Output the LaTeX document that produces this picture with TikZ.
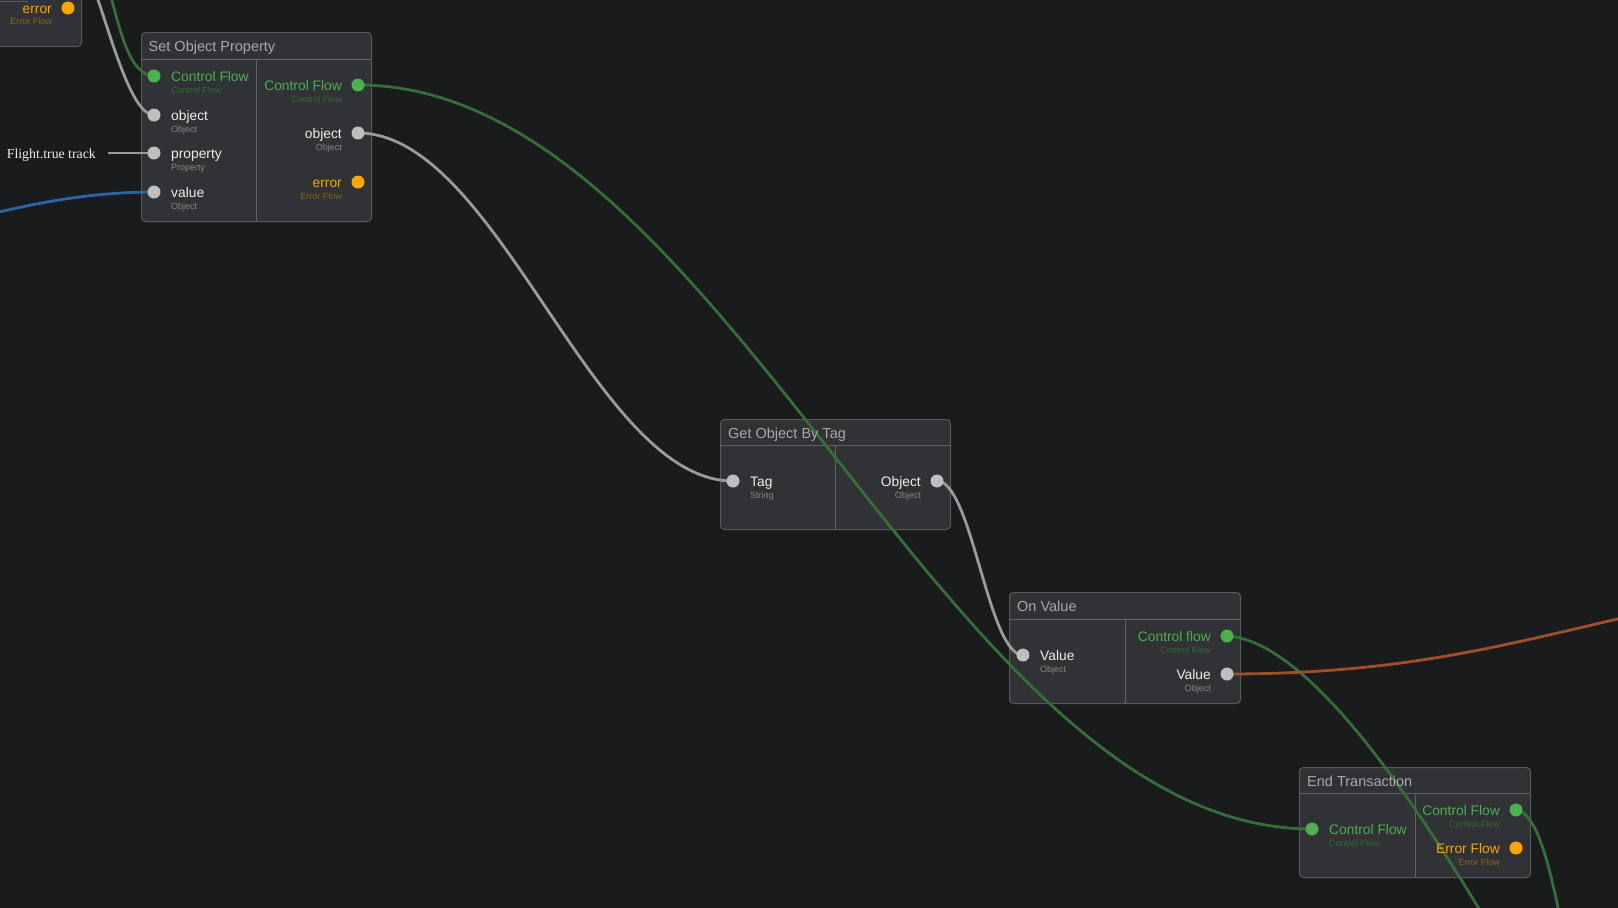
\documentclass[tikz,border=0pt]{standalone}
\usepackage{fontspec}
\setmainfont{Liberation Sans}
\newfontfamily\flightfont{Liberation Serif}
\definecolor{bgcol}{RGB}{26,27,29}
\definecolor{nfill}{RGB}{49,50,53}
\definecolor{nborder}{RGB}{88,89,93}
\definecolor{ndiv}{RGB}{98,98,102}
\definecolor{pgreen}{RGB}{76,175,80}
\definecolor{tgreen}{RGB}{76,175,80}
\definecolor{sgreen}{RGB}{52,105,56}
\definecolor{wgreen}{RGB}{52,110,58}
\definecolor{pgray}{RGB}{190,190,190}
\definecolor{wgray}{RGB}{155,155,155}
\definecolor{porange}{RGB}{255,165,0}
\definecolor{sorange}{RGB}{140,100,30}
\definecolor{twhite}{RGB}{238,238,238}
\definecolor{sgray}{RGB}{135,135,135}
\definecolor{ttlcol}{RGB}{170,170,170}
\definecolor{wblue}{RGB}{44,100,165}
\definecolor{wsienna}{RGB}{160,80,40}
\pgfdeclarelayer{bg}
\pgfdeclarelayer{wires}
\pgfsetlayers{bg,wires,main}
\tikzset{
 nodebox/.style={draw=nborder, fill=nfill, rounded corners=4pt, line width=1pt, rectangle, inner sep=0pt, anchor=north west},
 divline/.style={draw=ndiv, line width=1pt},
 port/.style={circle, inner sep=0pt, minimum size=13pt},
 gport/.style={port, fill=pgreen},
 wport/.style={port, fill=pgray},
 oport/.style={port, fill=porange},
 lbl/.style={inner sep=0pt, font=\fontsize{13.8}{16}\selectfont},
 lblL/.style={lbl, anchor=base west},
 lblR/.style={lbl, anchor=base east},
 sub/.style={inner sep=0pt, font=\fontsize{9}{10}\selectfont},
 subL/.style={sub, anchor=base west},
 subR/.style={sub, anchor=base east},
 ttl/.style={inner sep=0pt, font=\fontsize{14.5}{17}\selectfont, text=ttlcol, anchor=base west},
 wire/.style={line width=2.8pt},
}
\begin{document}
\begin{tikzpicture}[x=1pt,y=-1pt]
\begin{pgfonlayer}{bg}
\fill[bgcol] (0,0) rectangle (1618,908);
\end{pgfonlayer}
\useasboundingbox (0,0) rectangle (1618,908);
\clip (0,0) rectangle (1618,908);
\begin{pgfonlayer}{bg}
% previous partial node
\node[nodebox, anchor=south east, minimum width=120pt, minimum height=80pt] (prev) at (82,47) {};
\draw[draw=nborder, line width=1pt] (0,1) -- (28,1);
% Set Object Property
\node[nodebox, minimum width=230pt, minimum height=189pt] (sop) at (141,32) {};
\draw[divline] (141,59) -- (371,59) (256,59) -- (256,221);
% Get Object By Tag
\node[nodebox, minimum width=230pt, minimum height=110pt] (gobt) at (720,419) {};
\draw[divline] (720,445) -- (950,445) (835,445) -- (835,529);
% On Value
\node[nodebox, minimum width=231pt, minimum height=111pt] (ov) at (1009,592) {};
\draw[divline] (1009,619) -- (1240,619) (1125,619) -- (1125,703);
% End Transaction
\node[nodebox, minimum width=231pt, minimum height=110pt] (et) at (1299,767) {};
\draw[divline] (1299,793) -- (1530,793) (1415,793) -- (1415,877);
\end{pgfonlayer}

% previous node content
\node[oport] (prev-o1) at (68,8) {};
\node[lblR, text=porange] (prev-o1l) at (52,13) {error};
\node[subR, text=sorange] (prev-o1s) at (52,24) {Error Flow};

% Set Object Property content
\node[ttl] (sop-t) at (148.5,51) {Set Object Property};
\node[gport] (sop-i1) at (154,76) {};
\node[lblL, text=tgreen] (sop-i1l) at (171,81) {Control Flow};
\node[subL, text=sgreen] (sop-i1s) at (171,93) {Control Flow};
\node[wport] (sop-i2) at (154,115) {};
\node[lblL, text=twhite] (sop-i2l) at (171,120) {object};
\node[subL, text=sgray] (sop-i2s) at (171,132) {Object};
\node[wport] (sop-i3) at (154,153) {};
\node[lblL, text=twhite] (sop-i3l) at (171,158) {property};
\node[subL, text=sgray] (sop-i3s) at (171,170) {Property};
\node[wport] (sop-i4) at (154,192) {};
\node[lblL, text=twhite] (sop-i4l) at (171,197) {value};
\node[subL, text=sgray] (sop-i4s) at (171,209) {Object};
\node[gport] (sop-o1) at (358,85) {};
\node[lblR, text=tgreen] (sop-o1l) at (342,90) {Control Flow};
\node[subR, text=sgreen] (sop-o1s) at (342,102) {Control Flow};
\node[wport] (sop-o2) at (358,133) {};
\node[lblR, text=twhite] (sop-o2l) at (342,138) {object};
\node[subR, text=sgray] (sop-o2s) at (342,150) {Object};
\node[oport] (sop-o3) at (358,182) {};
\node[lblR, text=porange] (sop-o3l) at (342,187) {error};
\node[subR, text=sorange] (sop-o3s) at (342,199) {Error Flow};

% Flight.true track constant
\node[anchor=base east, inner xsep=12pt, inner ysep=0pt, text=twhite, font=\flightfont\fontsize{13.8}{16}\selectfont] (flt) at (108,158) {Flight.true track};

% Get Object By Tag content
\node[ttl] (gobt-t) at (728,438) {Get Object By Tag};
\node[wport] (gobt-i1) at (733,481) {};
\node[lblL, text=twhite] (gobt-i1l) at (750,486) {Tag};
\node[subL, text=sgray] (gobt-i1s) at (750,498) {String};
\node[wport] (gobt-o1) at (937,481) {};
\node[lblR, text=twhite] (gobt-o1l) at (921,486) {Object};
\node[subR, text=sgray] (gobt-o1s) at (921,498) {Object};

% On Value content
\node[ttl] (ov-t) at (1017,611) {On Value};
\node[wport] (ov-i1) at (1023,655) {};
\node[lblL, text=twhite] (ov-i1l) at (1040,660) {Value};
\node[subL, text=sgray] (ov-i1s) at (1040,672) {Object};
\node[gport] (ov-o1) at (1227,636) {};
\node[lblR, text=tgreen] (ov-o1l) at (1211,641) {Control flow};
\node[subR, text=sgreen] (ov-o1s) at (1211,653) {Control Flow};
\node[wport] (ov-o2) at (1227,674) {};
\node[lblR, text=twhite] (ov-o2l) at (1211,679) {Value};
\node[subR, text=sgray] (ov-o2s) at (1211,691) {Object};

% End Transaction content
\node[ttl] (et-t) at (1307,786) {End Transaction};
\node[gport] (et-i1) at (1312,829) {};
\node[lblL, text=tgreen] (et-i1l) at (1329,834) {Control Flow};
\node[subL, text=sgreen] (et-i1s) at (1329,846) {Control Flow};
\node[gport] (et-o1) at (1516,810) {};
\node[lblR, text=tgreen] (et-o1l) at (1500,815) {Control Flow};
\node[subR, text=sgreen] (et-o1s) at (1500,827) {Control Flow};
\node[oport] (et-o2) at (1516,848) {};
\node[lblR, text=porange] (et-o2l) at (1500,853) {Error Flow};
\node[subR, text=sorange] (et-o2s) at (1500,865) {Error Flow};

% free ends
\coordinate (fe-gray-top) at (97,-3);
\coordinate (fe-green-top) at (111,-3);
\coordinate (fe-blue) at (-3,212.5);
\coordinate (fe-ovcf) at (1481,912);
\coordinate (fe-orange) at (1622,618);
\coordinate (fe-etcf) at (1559,912);

\begin{pgfonlayer}{wires}
\draw[wire, wgray] (fe-gray-top) .. controls (112,40) and (132,115) .. (sop-i2.center);
\draw[wire, wgreen] (fe-green-top) .. controls (120,30) and (130,76) .. (sop-i1.center);
\draw[wire, wblue] (fe-blue) .. controls (50,200) and (100,192) .. (sop-i4.center);
\draw[wire, wgray] (flt.east |- sop-i3) -- (sop-i3.center);
\draw[wire, wgreen] (sop-o1.center) .. controls +(367,0) and +(-367,0) .. (et-i1.center);
\draw[wire, wgray] (sop-o2.center) .. controls +(140,0) and +(-140,0) .. (gobt-i1.center);
\draw[wire, wgray] (gobt-o1.center) .. controls +(35,0) and +(-35,0) .. (ov-i1.center);
\draw[wire, wgreen] (ov-o1.center) .. controls (1300,640) and (1395,770) .. (fe-ovcf);
\draw[wire, wsienna] (ov-o2.center) .. controls (1400,674) and (1500,646) .. (fe-orange);
\draw[wire, wgreen] (et-o1.center) .. controls (1534,812) and (1546,850) .. (fe-etcf);
\end{pgfonlayer}
\end{tikzpicture}
\end{document}
